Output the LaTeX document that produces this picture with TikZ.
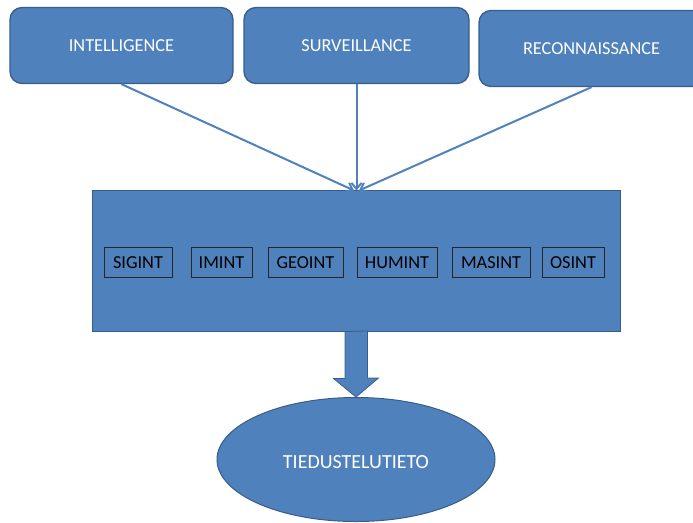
\documentclass[tikz,border=0pt]{standalone}
\usepackage{fontspec}
\setmainfont{Carlito}
\usetikzlibrary{arrows.meta,shapes.geometric}
\definecolor{fillblue}{HTML}{4F81BD}
\definecolor{edgeblue}{HTML}{385D8A}
\begin{document}
\begin{tikzpicture}[x=1pt,y=-1pt,
  topbox/.style={draw=edgeblue,fill=fillblue,line width=1.3pt,rounded corners=12pt,
    minimum height=76pt,text=white,font=\fontsize{18.3}{20}\selectfont,inner sep=0pt},
  midbox/.style={draw=edgeblue,fill=fillblue,line width=1pt,minimum width=528pt,minimum height=141pt,inner sep=0pt},
  intbox/.style={draw=black!85,line width=0.8pt,minimum height=30pt,inner sep=0pt,
    font=\fontsize{18.3}{20}\selectfont,text=black},
  conn/.style={draw=fillblue,line width=2pt,-{Straight Barb[length=6pt,width=10pt]}},
  blockarrow/.style={draw=edgeblue,fill=fillblue,line width=0.8pt,line join=miter}
]
\useasboundingbox (0,0) rectangle (693,522);
\node[topbox,minimum width=223pt] (intel) at (121.5,45.5) {INTELLIGENCE};
\node[topbox,minimum width=225pt] (surv) at (356.5,45.5) {SURVEILLANCE};
\node[topbox,minimum width=225pt] (recon) at (591.5,48.5) {RECONNAISSANCE};
\node[midbox] (mid) at (356,260.5) {};
\node[intbox,minimum width=68pt] (sigint) at (138,262.5) {SIGINT};
\node[intbox,minimum width=61pt] (imint) at (221.5,262.5) {IMINT};
\node[intbox,minimum width=75pt] (geoint) at (305.5,262.5) {GEOINT};
\node[intbox,minimum width=80pt] (humint) at (397,262.5) {HUMINT};
\node[intbox,minimum width=78pt] (masint) at (491,262.5) {MASINT};
\node[intbox,minimum width=62pt] (osint) at (573,262.5) {OSINT};
\node[ellipse,draw=edgeblue,fill=fillblue,line width=1pt,minimum width=278pt,minimum height=124pt,
  text=white,font=\fontsize{20}{22}\selectfont,inner sep=0pt] (tieto) at (356,459.5) {\raisebox{-8.5pt}[0pt][0pt]{TIEDUSTELUTIETO}};
\draw[conn] (intel.south) -- ([xshift=-2pt,yshift=-1pt]mid.north);
\draw[conn] (surv.south) -- ([xshift=0.5pt,yshift=-1pt]mid.north);
\draw[conn] (recon.south) -- ([xshift=3pt,yshift=-1pt]mid.north);
\draw[blockarrow] ([xshift=-11pt]mid.south) -- ++(0,47) -- ++(-11.5,0) -- (tieto.north)
  -- ++(22.5,-19) -- ++(-11,0) -- ++(0,-47) -- cycle;
\end{tikzpicture}
\end{document}
